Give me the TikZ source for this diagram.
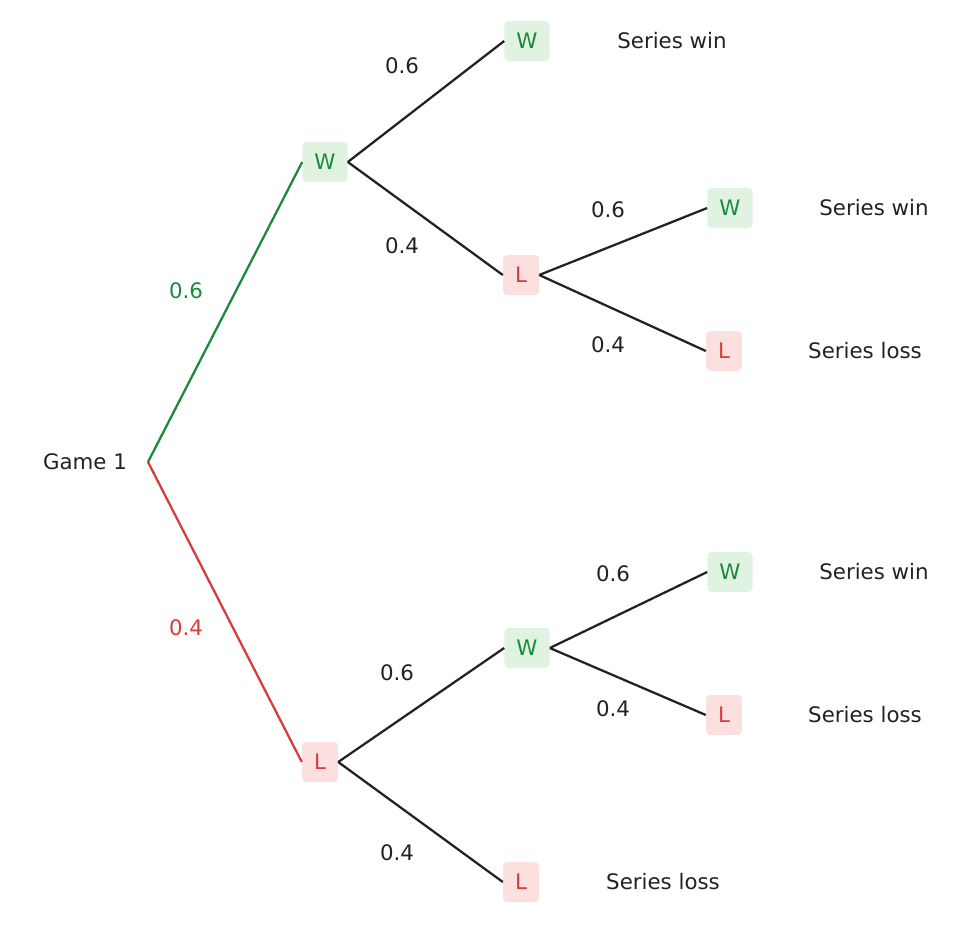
\documentclass[tikz,border=0pt]{standalone}
\usepackage{fontspec}
\setmainfont{DejaVu Sans}
\definecolor{wincol}{HTML}{1A8A3A}
\definecolor{winfill}{HTML}{E0F3E3}
\definecolor{losscol}{HTML}{D63C3C}
\definecolor{lossfill}{HTML}{FBE0DF}
\definecolor{ink}{HTML}{222222}
\tikzset{
  outcome/.style={rounded corners=3pt,minimum height=30pt,inner xsep=9pt,font=\fontsize{16}{19}\selectfont},
  win/.style={outcome,fill=winfill,text=wincol},
  loss/.style={outcome,fill=lossfill,text=losscol},
  txt/.style={text=ink,font=\fontsize{16}{19}\selectfont},
  branch/.style={draw=ink,line width=1.7pt}
}
\begin{document}
\begin{tikzpicture}[x=0.75pt,y=-0.75pt]
    \useasboundingbox (0,0) rectangle (975,925);

    \node[txt] (g) at (85,462) {Game 1};
    \coordinate (root) at (148,462);

    \node[win] (w) at (325,162) {W};
    \node[loss] (l) at (320,762) {L};
    \node[win] (ww) at (527,41) {W};
    \node[loss] (wl) at (521,275) {L};
    \node[win] (lw) at (527,648) {W};
    \node[loss] (ll) at (521,882) {L};
    \node[win] (wlw) at (730,208) {W};
    \node[loss] (wll) at (724,351) {L};
    \node[win] (lww) at (730,572) {W};
    \node[loss] (lwl) at (724,715) {L};

    % outcomes
    \node[txt] (r1) at (672,41) {Series win};
    \node[txt] (r2) at (874,208) {Series win};
    \node[txt] (r3) at (865,351) {Series loss};
    \node[txt] (r4) at (874,572) {Series win};
    \node[txt] (r5) at (865,715) {Series loss};
    \node[txt] (r6) at (663,882) {Series loss};

    \draw[branch,draw=wincol] (root) -- (w.west);
    \draw[branch,draw=losscol] (root) -- (l.west);
    \draw[branch] (w.east) -- (ww.west);
    \draw[branch] (w.east) -- (wl.west);
    \draw[branch] (wl.east) -- (wlw.west);
    \draw[branch] (wl.east) -- (wll.west);
    \draw[branch] (l.east) -- (lw.west);
    \draw[branch] (l.east) -- (ll.west);
    \draw[branch] (lw.east) -- (lww.west);
    \draw[branch] (lw.east) -- (lwl.west);

    % probabilities
    \node[txt,text=wincol] (p1) at (186,291) {0.6};
    \node[txt,text=losscol] (p2) at (186,628) {0.4};
    \node[txt] (p3) at (402,66) {0.6};
    \node[txt] (p4) at (402,246) {0.4};
    \node[txt] (p5) at (608,210) {0.6};
    \node[txt] (p6) at (608,345) {0.4};
    \node[txt] (p7) at (397,673) {0.6};
    \node[txt] (p8) at (397,853) {0.4};
    \node[txt] (p9) at (613,574) {0.6};
    \node[txt] (p10) at (613,709) {0.4};

\end{tikzpicture}
\end{document}
